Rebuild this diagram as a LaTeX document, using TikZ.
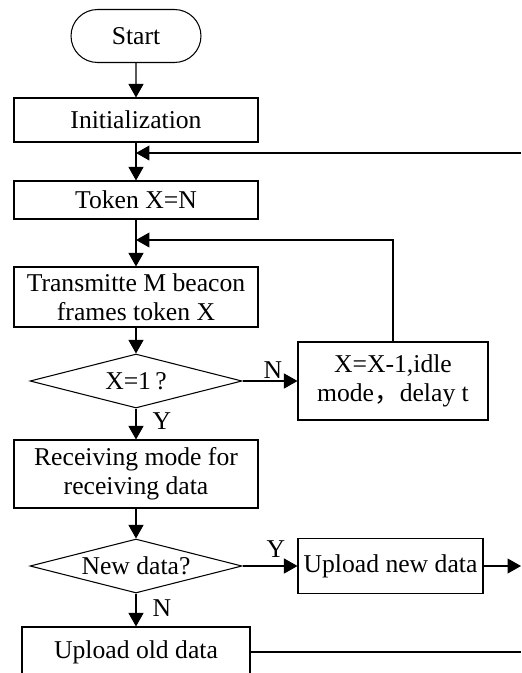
\documentclass[tikz,border=0pt]{standalone}
\usepackage{fontspec}
\setmainfont{Liberation Serif}
\newfontfamily\cjk{Noto Sans CJK SC}
\usetikzlibrary{shapes.geometric,shapes.misc,arrows.meta}

\begin{document}
\begin{tikzpicture}[x=0.02cm,y=-0.02cm,
    font=\fontsize{14.6}{16.5}\selectfont,
    line width=0.6pt,
    box/.style={draw,rectangle,align=center,inner sep=0pt},
    term/.style={draw,rounded rectangle,inner sep=0pt},
    test/.style={draw,diamond,aspect=3.9,inner sep=0pt,
      minimum width=4.24cm,minimum height=1.08cm},
    lbl/.style={inner sep=0pt},
    flow/.style={-{Triangle[length=0.27cm,width=0.3cm]}}]
  \path[use as bounding box,clip] (0,0) rectangle (521,673);
  \draw
    (136,36) node[term,minimum width=2.6cm,minimum height=1.06cm] (start){Start}
    (136,120) node[box,minimum width=4.88cm,minimum height=0.88cm] (init){Initialization}
    (136,200) node[box,minimum width=4.88cm,minimum height=0.76cm] (token){Token X=N}
    (136,297) node[box,minimum width=4.88cm,minimum height=1.2cm] (trans){Transmitte M beacon\\frames token X}
    (136,381) node[test] (last){X=1\,?}
    (393,381) node[box,minimum width=3.8cm,minimum height=1.56cm] (idle){X=X-1,idle\\mode{\cjk ，}delay t}
    (136,474) node[box,minimum width=4.88cm,minimum height=1.36cm] (recv){Receiving mode for\\receiving data}
    (136,566) node[test] (fresh){New data?}
    (390.5,566) node[box,minimum width=3.7cm,minimum height=1.1cm] (upnew){Upload new data}
    (136,652) node[box,minimum width=4.56cm,minimum height=1.0cm] (upold){Upload old data};
  \coordinate (back) at (521,153);
  \coordinate (again) at (136,240);
  \coordinate (outnew) at (521,566);
  \coordinate (outold) at (521,652);
  % branch labels
  \node[lbl] (n1) at (273,370) {N};
  \node[lbl] (y1) at (162,421) {Y};
  \node[lbl] (y2) at (276,549) {Y};
  \node[lbl] (n2) at (162,608) {N};
  \begin{scope}[flow]
    \draw (start) to (init);
    \draw (init) to (token);
    \draw (back) to (back -| init);
    \draw (token) to (trans);
    \draw (idle.north) |- (again);
    \draw (trans) to (last);
    \draw (last) to (idle);
    \draw (last) to (recv);
    \draw (recv) to (fresh);
    \draw (fresh) to (upnew);
    \draw (fresh) to (upold);
    \draw (upnew) to (outnew);
    \draw[-] (upold) to (outold);
  \end{scope}
\end{tikzpicture}
\end{document}
